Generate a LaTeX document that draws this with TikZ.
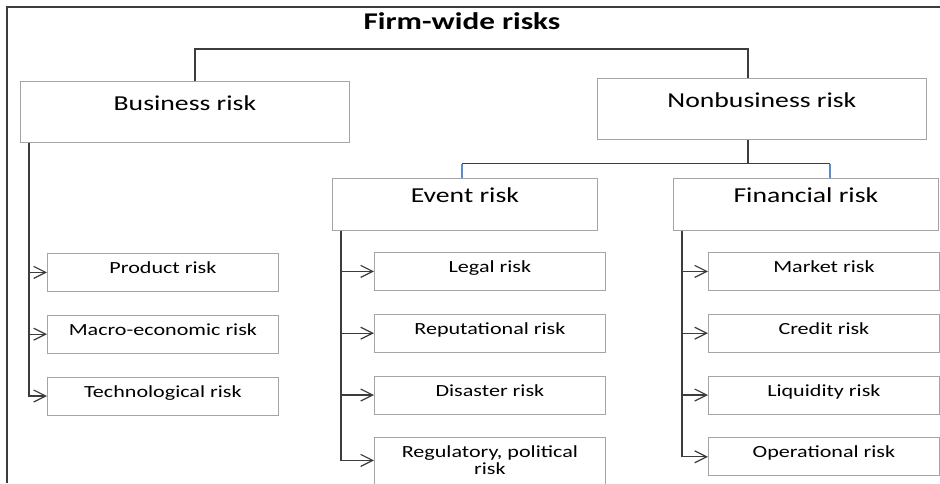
\documentclass[tikz,border=0pt]{standalone}
\usepackage{fontspec}
\newfontfamily\boxfont[FakeStretch=1.3]{Carlito}
\usetikzlibrary{positioning, calc, arrows.meta}
\definecolor{linegray}{RGB}{60,60,60}
\definecolor{boxgray}{RGB}{165,165,165}
\definecolor{dropblue}{RGB}{91,140,200}

\begin{document}
\begin{tikzpicture}[
    x=1pt, y=-1pt, % one unit is one pixel, y runs downwards
    >={Straight Barb[length=12pt,width=12pt]}, % open arrow heads
    node distance=23pt, % gap between the small boxes
    conn/.style={draw=linegray, line width=1.2pt},
    drop/.style={draw=dropblue, line width=1.2pt},
    topbox/.style={draw=boxgray, line width=0.8pt, inner sep=0pt, anchor=north west,
        minimum width=329pt, text height=29pt, text depth=32pt,
        font=\boxfont\fontsize{21.3}{24}\selectfont},
    midbox/.style={topbox, minimum width=265pt, text height=24pt, text depth=28pt},
    kidbox/.style={draw=boxgray, line width=0.8pt, inner sep=0pt, align=center,
        minimum width=231pt, text height=20pt, text depth=18pt,
        font=\boxfont\fontsize{17}{17}\selectfont}
]
\useasboundingbox (0,0) rectangle (940,483);
\clip (0,0) rectangle (940,483);

% Frame and title
\coordinate (fl) at (7,483);
\coordinate (fr) at (940,7);
\draw[conn] (fl) |- (fr);
\node[font=\boxfont\bfseries\fontsize{24}{28}\selectfont, anchor=base] (T) at (462,29) {Firm-wide risks};

% Main boxes
\node[topbox] (BR) at (20,81) {Business risk};
\node[topbox] (NR) at (597,78) {Nonbusiness risk};
\node[midbox] (ER) at (332,178) {Event risk};
\node[midbox] (FR) at (673,178) {Financial risk};

% Small boxes
\node[kidbox, anchor=north west] (P1) at (47,253) {Product risk};
\node[kidbox, below=of P1] (P2) {Macro-economic risk};
\node[kidbox, below=of P2] (P3) {Technological risk};

\node[kidbox, anchor=north west] (E1) at (374,252) {Legal risk};
\node[kidbox, below=of E1] (E2) {Reputational risk};
\node[kidbox, below=of E2] (E3) {Disaster risk};
\node[kidbox, below=of E3, text height=37pt, text depth=40pt] (E4) {Regulatory, political\\risk};

\node[kidbox, anchor=north west] (F1) at (708,252) {Market risk};
\node[kidbox, below=of F1] (F2) {Credit risk};
\node[kidbox, below=of F2] (F3) {Liquidity risk};
\node[kidbox, below=of F3] (F4) {Operational risk};

% Top split
\coordinate (Bu) at ($(BR.north west)+(175,0)$);
\coordinate (Nu) at ($(NR.north west)+(151,0)$);
\draw[conn] (Bu) -- ++(0,-32) -| (Nu);

% Nonbusiness split
\coordinate (Nd) at ($(NR.south west)+(151,0)$);
\coordinate (Ed) at ($(ER.north west)+(130,0)$);
\coordinate (Fd) at ($(FR.north west)+(157,0)$);
\draw[conn] (Nd) -- ++(0,24) coordinate (split);
\draw[conn] (Ed |- split) -- (Fd |- split);
\draw[drop] (Ed |- split) -- (Ed);
\draw[drop] (Fd |- split) -- (Fd);

% Arrows into the small boxes
\coordinate (Bt) at ($(BR.south west)+(9,0)$);
\coordinate (Et) at ($(ER.south west)+(9,0)$);
\coordinate (Ft) at ($(FR.south west)+(9,0)$);
\foreach \k in {P1,P2,P3} \draw[conn,->] (Bt) |- (\k.west);
\foreach \k in {E1,E2,E3} \draw[conn,->] (Et) |- (\k.west);
\draw[conn,->] (Et) |- ($(E4.north west)+(0,23)$);
\foreach \k in {F1,F2,F3,F4} \draw[conn,->] (Ft) |- (\k.west);

\end{tikzpicture}
\end{document}
